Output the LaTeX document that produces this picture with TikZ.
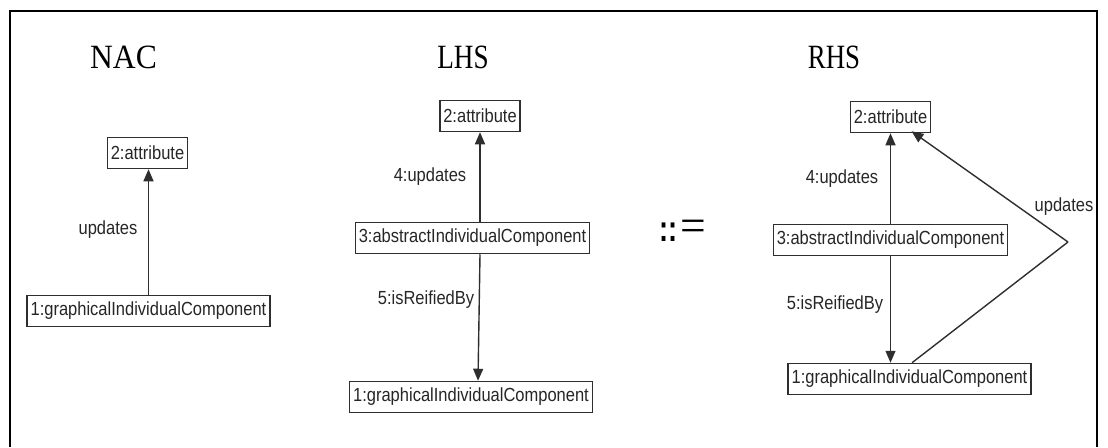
\documentclass[tikz,border=0pt]{standalone}
\usepackage{fontspec}
\usepackage{graphicx}
\setmainfont{Liberation Serif}
\setsansfont{Liberation Sans}
\usetikzlibrary{arrows.meta,calc}
\newcommand{\lbtext}[1]{\scalebox{1}[1.15]{#1}}
\definecolor{boxline}{HTML}{2E2E2E}
\definecolor{lbl}{HTML}{262626}
\tikzset{
  objbox/.style={draw=boxline, line width=1.5pt, fill=white, minimum height=31pt,
    inner xsep=3.5pt, inner ysep=0pt, text=lbl,
    font=\sffamily\fontsize{16.5}{16.5}\selectfont},
  edgelbl/.style={text=lbl, inner sep=0pt, font=\sffamily\fontsize{16.5}{16.5}\selectfont},
  arr/.style={draw=boxline, line width=1.4pt, -{Triangle[length=12pt,width=10pt]}},
  ln/.style={draw=boxline, line width=1.4pt},
  titlelbl/.style={anchor=base, inner sep=0pt, font=\rmfamily\fontsize{34}{34}\selectfont}
}
\begin{document}
\begin{tikzpicture}[x=1pt,y=-1pt]
\useasboundingbox (0,0) rectangle (1108,447);
% frame (open at the bottom)
\draw[line width=2pt, line join=miter] (10,447) -- (10,11) -- (1097,11) -- (1097,447);

% titles
\node[titlelbl] (tnac) at (123.5,68) {\scalebox{0.93}[1]{NAC}};
\node[titlelbl] (tlhs) at (463,68) {\scalebox{0.8}[1]{LHS}};
\node[titlelbl] (trhs) at (834,68) {\scalebox{0.79}[1]{RHS}};

% NAC
\node[objbox] (nattr) at (147.5,153) {\lbtext{2:attribute}};
\node[objbox] (ngraph) at (148.5,311) {\lbtext{1:graphicalIndividualComponent}};
\draw[arr] (ngraph.north) -- (ngraph.north |- nattr.south);
\node[edgelbl] (nupd) at (108,230) {\lbtext{updates}};

% LHS
\node[objbox] (lattr) at (480,116) {\lbtext{2:attribute}};
\node[objbox] (labs) at (472.5,238) {\lbtext{3:abstractIndividualComponent}};
\node[objbox] (lgraph) at (471,397) {\lbtext{1:graphicalIndividualComponent}};
\draw[arr] (labs.north -| lattr.south) -- (lattr.south);
\draw[arr] (labs.south -| lattr.south) -- ([xshift=-2pt]lgraph.north -| lattr.south);
\node[edgelbl] (lupd) at (430,177) {\lbtext{4:updates}};
\node[edgelbl] (lreif) at (426,300) {\lbtext{5:isReifiedBy}};

% ::=
\node[inner sep=0pt, font=\sffamily\bfseries\fontsize{32}{32}\selectfont] (cc) at (668.5,232) {\scalebox{0.85}[1.15]{::}};
\node[inner sep=0pt, font=\rmfamily\fontsize{26}{26}\selectfont] (eq) at (693.5,231) {\scalebox{1.75}[1.8]{=}};

% RHS
\node[objbox] (rattr) at (890.5,117) {\lbtext{2:attribute}};
\node[objbox] (rabs) at (890.5,240) {\lbtext{3:abstractIndividualComponent}};
\node[objbox] (rgraph) at (909.5,379) {\lbtext{1:graphicalIndividualComponent}};
\draw[arr] (rabs.north -| rattr.south) -- (rattr.south);
\draw[arr] (rabs.south -| rattr.south) -- (rgraph.north -| rattr.south);
\coordinate (bend) at (1068,242);
\draw[ln] ([xshift=2.5pt]rgraph.north) -- (bend);
\draw[arr] (bend) -- ([xshift=21pt,yshift=2pt]rattr.south);
\node[edgelbl] (rupd) at (842,179) {\lbtext{4:updates}};
\node[edgelbl] (rreif) at (835,305) {\lbtext{5:isReifiedBy}};
\node[edgelbl] (rupd2) at (1064,207) {\lbtext{updates}};
\end{tikzpicture}
\end{document}
